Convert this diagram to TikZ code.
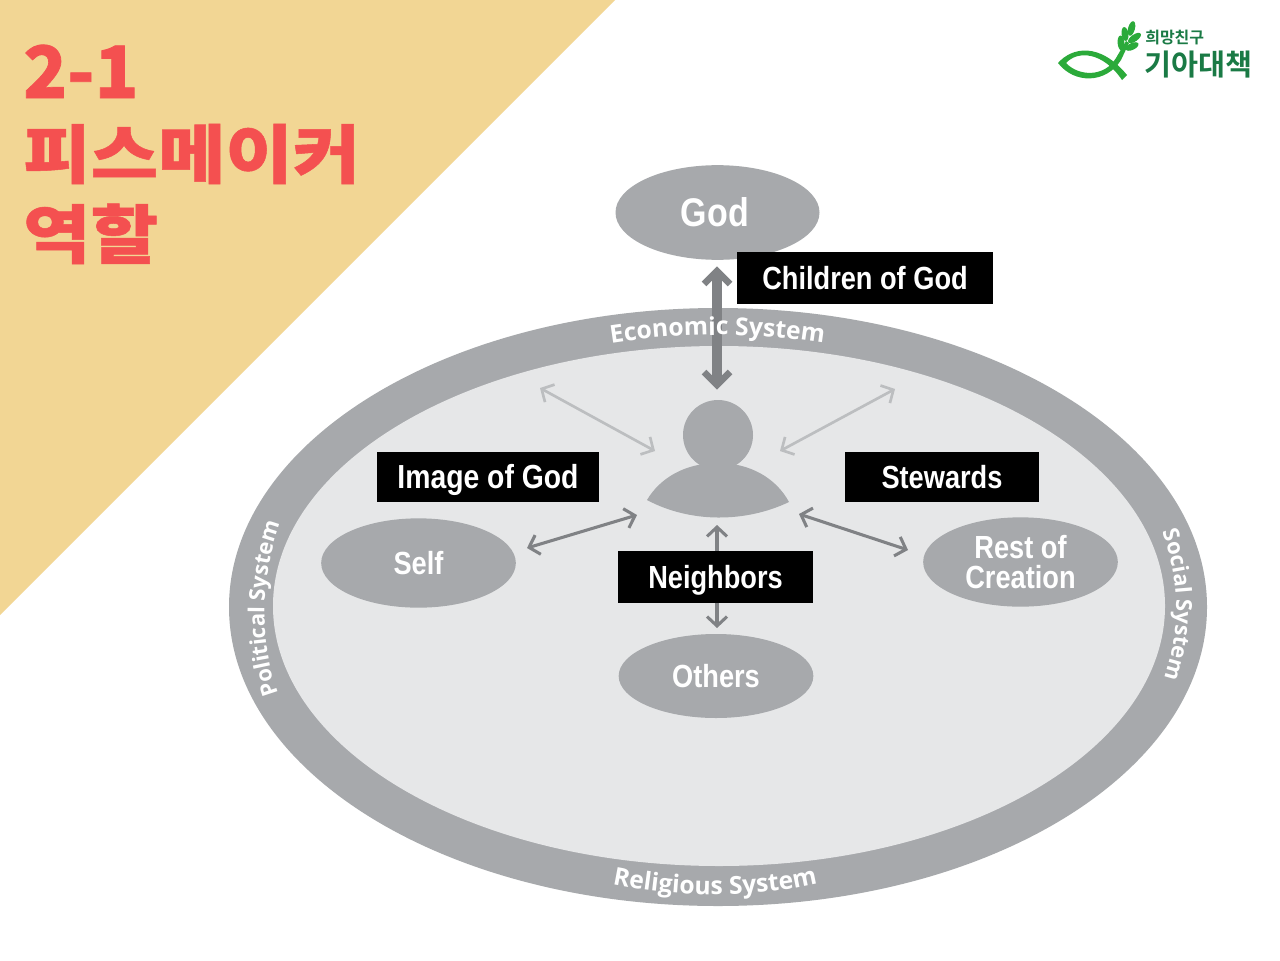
\documentclass[tikz,border=0pt]{standalone}
\usepackage{fontspec}
\usetikzlibrary{arrows.meta,decorations.text,shapes.geometric,calc}
\newfontfamily\lblfont[FakeStretch=0.85]{Liberation Sans Bold}
\newfontfamily\ringfont{Open Sans Bold}
\newfontfamily\ttlfont[FakeBold=0.8,FakeStretch=1.145]{Noto Sans CJK KR Black}
\newfontfamily\numfont[FakeBold=1,FakeStretch=1.0]{Noto Sans CJK KR Black}
\newfontfamily\logofont{Noto Sans CJK KR Bold}
\definecolor{band}{HTML}{F2D694}
\definecolor{ttl}{HTML}{F45050}
\definecolor{ringc}{HTML}{A7A9AC}
\definecolor{innerc}{HTML}{E6E7E8}
\definecolor{darkar}{HTML}{808285}
\definecolor{lightar}{HTML}{BCBEC0}
\definecolor{logoa}{HTML}{2BAA3A}
\definecolor{logob}{HTML}{1A7A45}
\tikzset{
  x=0.75pt,y=-0.75pt,
  blob/.style={ellipse,fill=ringc,inner sep=0pt,text=white,font=\lblfont\fontsize{24}{23}\selectfont,align=center},
  tag/.style={fill=black,inner sep=0pt,text=white,text height=17pt,text depth=0pt,font=\lblfont\fontsize{24}{26}\selectfont},
  ttltext/.style={text=ttl,font=\ttlfont\fontsize{48}{50}\selectfont,anchor=base west,inner sep=0pt},
  bigshaft/.style={darkar,line width=8pt},
  bighead/.style={darkar,line width=5pt,miter limit=10},
  midar/.style={darkar,line width=2.3pt,{Straight Barb[length=7pt,width=15pt]}-{Straight Barb[length=7pt,width=15pt]}},
  liteAr/.style={lightar,line width=2pt,{Straight Barb[length=7pt,width=15pt]}-{Straight Barb[length=7pt,width=15pt]}},
  ringtxt/.style 2 args={decorate,decoration={text along path,text align=center,text color=white,
     text={|\ringfont\fontsize{#1}{#1}\selectfont|#2}}},
}
\begin{document}
\begin{tikzpicture}
\useasboundingbox (0,0) rectangle (1280,960);
\fill[white] (0,0) rectangle (1280,960);
\fill[band] (0,0) -- (615,0) -- (0,615) -- cycle;
\node[ttltext,font=\numfont\fontsize{54}{58}\selectfont] (t1) at (23,98) {2-1};
\node[ttltext] (t2) at (23,178) {피스메이커};
\node[ttltext] (t3) at (23,258) {역할};
% logo
\fill[logoa] (1058,63) .. controls (1072,47) and (1100,42) .. (1127,75) -- (1122,80)
  .. controls (1103,52) and (1078,50) .. (1066,63)
  .. controls (1078,76) and (1104,78) .. (1116,58) -- (1126,41) -- (1129,43) -- (1121,60)
  .. controls (1106,84) and (1074,84) .. (1058,63) -- cycle;
\foreach \a/\b/\r/\ry in {1131.5/28.5/-15/7.5,1125/34/8/7,1134.5/38/-55/7.5,1121/43/5/7.5,1132/46.5/-65/7}{
  \fill[logoa] (\a,\b) ellipse [x radius=3.4,y radius=\ry,rotate=\r];
}
\node[text=logob,font=\logofont\fontsize{12}{12}\selectfont,anchor=base west,inner sep=0pt] (lg1) at (1145,43) {희망친구};
\node[text=logob,font=\logofont\fontsize{22}{22}\selectfont,anchor=base west,inner sep=0pt] (lg2) at (1144,75) {기아대책};
% rings
\fill[ringc] (718,607) ellipse [x radius=489,y radius=299];
\fill[innerc] (719,606) ellipse [x radius=446,y radius=260];
\node[blob,minimum width=153pt,minimum height=71pt] (god) at (717.5,212.5) {\fontsize{30}{30}\selectfont God\hspace{4pt}};
\node[blob,minimum width=146pt,minimum height=67pt] (self) at (418.5,563) {Self};
\node[blob,minimum width=146pt,minimum height=67pt] (rest) at (1020.5,562) {Rest of\\Creation};
\node[blob,minimum width=146pt,minimum height=63pt] (others) at (716,676) {Others};
% person
\fill[ringc] (718,435) circle [radius=35];
\fill[ringc] (647,500) .. controls (660,478) and (685,463) .. (718,463)
   .. controls (750,463) and (776,478) .. (789,502)
   .. controls (745,523) and (690,523) .. (647,500) -- cycle;
\coordinate (pt) at (717,385);
\coordinate (gt) at (717,271);
\coordinate (a1) at (540,388); \coordinate (a2) at (655,451);
\coordinate (b1) at (895,389); \coordinate (b2) at (780,451);
\coordinate (c1) at (527,548); \coordinate (c2) at (637,515);
\coordinate (d1) at (908,550); \coordinate (d2) at (799,514);
\coordinate (e1) at (717,525); \coordinate (f1) at (717,628);
\draw[bigshaft] (gt) -- (pt);
\draw[bighead] ($(gt)+(-13,13)$) -- (gt) -- ($(gt)+(13,13)$);
\draw[bighead] ($(pt)+(-13,-13)$) -- (pt) -- ($(pt)+(13,-13)$);
\draw[liteAr] (a1) -- (a2);
\draw[liteAr] (b1) -- (b2);
\draw[midar] (c1) -- (c2);
\draw[midar] (d1) -- (d2);
\node[tag,minimum width=192pt,minimum height=39pt] (children) at (865,278) {Children of God};
\node[tag,minimum width=166.5pt,minimum height=37.5pt,font=\lblfont\fontsize{25}{26}\selectfont] (image) at (488,477) {Image of God};
\node[tag,minimum width=145.5pt,minimum height=37.5pt] (stew) at (942,477) {Stewards};
\node[tag,minimum width=146pt,minimum height=39pt] (neigh) at (715.5,577) {Neighbors};
\draw[darkar,line width=2.3pt,-{Straight Barb[length=7pt,width=15pt]}] (neigh.north -| e1) -- (e1);
\draw[darkar,line width=2.3pt,-{Straight Barb[length=7pt,width=15pt]}] (neigh.south -| f1) -- (f1);
% ring labels
\path[ringtxt={18.5}{Economic System}] (590,347) .. controls (670,331) and (770,331) .. (845,347);
\path[ringtxt={18.5}{Religious System}] (590,879) .. controls (670,900) and (770,900) .. (840,877);
\path[ringtxt={16.5}{Political System}] (286,712) .. controls (256,650) and (258,570) .. (288,505);
\path[ringtxt={16.5}{Social System}] (1155,515) .. controls (1180,570) and (1185,630) .. (1158,695);
\end{tikzpicture}
\end{document}
